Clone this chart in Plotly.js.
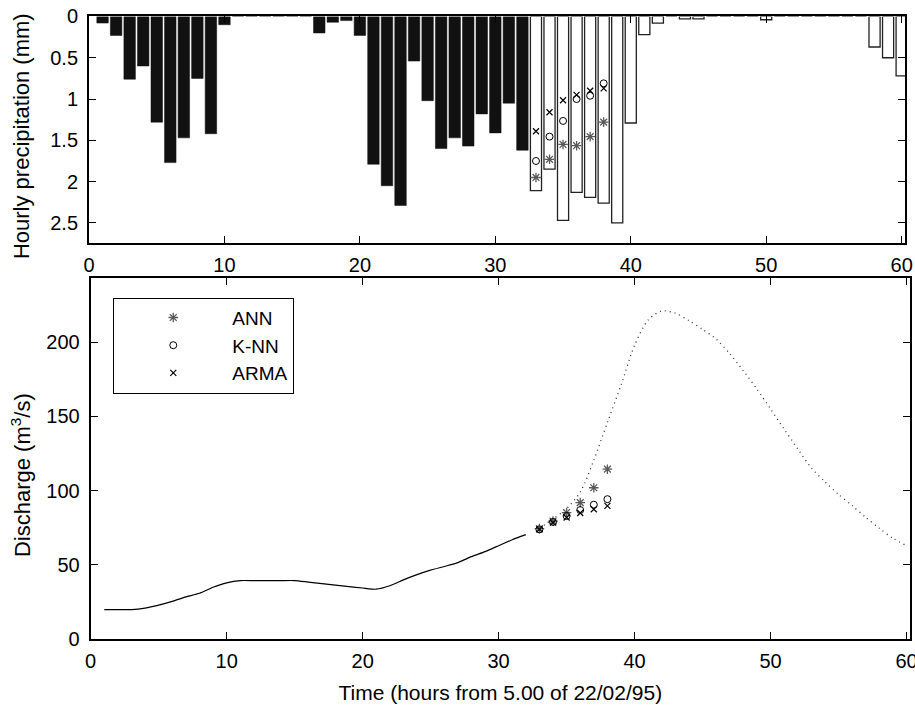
<!DOCTYPE html>
<html>
<head>
<meta charset="utf-8">
<script src="https://cdn.plot.ly/plotly-3.0.1.min.js"></script>
<style>html,body{margin:0;padding:0;background:#fff;}</style>
</head>
<body>
<div id="chart" style="width:915px;height:707px;"></div>
<script>
// ---- Data ----
const rainObsHours = [1,2,3,4,5,6,7,8,9,10,11,12,13,14,15,16,17,18,19,20,21,22,23,24,25,26,27,28,29,30,31,32];
const rainObs = [0.08,0.23,0.76,0.60,1.28,1.77,1.47,0.75,1.42,0.10,0,0,0,0,0,0,0.20,0.07,0.05,0.23,1.79,2.05,2.29,0.54,1.02,1.60,1.47,1.57,1.18,1.41,1.05,1.62];

const rainNextHours = [33,34,35,36,37,38,39,40,41,42,43,44,45,46,47,48,49,50,51,52,53,54,55,56,57,58,59,60];
const rainNext = [2.11,1.85,2.47,2.13,2.19,2.26,2.50,1.29,0.22,0.08,0,0.03,0.03,0,0,0,0,0.04,0,0,0,0,0,0,0,0.37,0.50,0.72];

const forecastHours = [33,34,35,36,37,38];
const annRain  = [1.95,1.73,1.55,1.565,1.455,1.28];
const knnRain  = [1.75,1.455,1.265,1.00,0.96,0.81];
const armaRain = [1.39,1.16,1.015,0.95,0.90,0.87];

const flowObsHours = [1,2,3,4,5,6,7,8,9,10,11,12,13,14,15,16,17,18,19,20,21,22,23,24,25,26,27,28,29,30,31,32];
const flowObs = [20,20,20,21,23,25.5,28.5,31,35,38,39.5,39.5,39.5,39.5,39.5,38.5,37.5,36.5,35.5,34.5,33.7,36,40,43.5,46.5,49,51.6,55.6,59,63,67,70.4];

const flowNextHours = [33,34,35,36,37,38,39,40,41,42,43,44,45,46,47,48,49,50,51,52,53,54,55,56,57,58,59,60];
const flowNext = [74.7,81,88,99,120.5,146,171,198,215,221,219.5,214.5,208.6,202,192.2,180.7,168.4,155,141.4,128.1,115.3,106,97.5,90,82,74.7,68,63];

const annFlow  = [74.5,79.5,85.3,92,102,114.5];
const knnFlow  = [74,79,83,87,90.6,94.3];
const armaFlow = [74,78.5,82,85,87.5,89.8];

const xTicks = [0,10,20,30,40,50,60];
const rainTicks = [0,0.5,1,1.5,2,2.5];
const rainTickText = ['0','0.5','1','1.5','2','2.5'];
const flowTicks = [0,50,100,150,200];

const rainTitle = 'Hourly precipitation (mm)';
const flowTitle = 'Discharge (m<sup>3</sup>/s)';
const timeTitle = 'Time (hours from 5.00 of 22/02/95)';

// ---- Styling ----
const FONT = 'Liberation Sans, Arial, Helvetica, sans-serif';
const annColor = '#5a5a5a';

const traces = [
  {type:'bar', x:rainObsHours, y:rainObs, width:0.85, xaxis:'x', yaxis:'y',
   marker:{color:'#111111', line:{color:'#111111', width:0.5}}, showlegend:false, hoverinfo:'x+y'},
  {type:'bar', x:rainNextHours, y:rainNext, width:0.82, xaxis:'x', yaxis:'y',
   marker:{color:'#ffffff', line:{color:'#222222', width:1.3}}, showlegend:false, hoverinfo:'x+y'},
  {type:'scatter', mode:'markers', x:forecastHours, y:annRain, xaxis:'x', yaxis:'y', showlegend:false,
   marker:{symbol:'asterisk-open', size:8, color:annColor, line:{color:annColor, width:1.3}}},
  {type:'scatter', mode:'markers', x:forecastHours, y:knnRain, xaxis:'x', yaxis:'y', showlegend:false,
   marker:{symbol:'circle-open', size:7, color:'#000', line:{color:'#000', width:1}}},
  {type:'scatter', mode:'markers', x:forecastHours, y:armaRain, xaxis:'x', yaxis:'y', showlegend:false,
   marker:{symbol:'x-thin-open', size:6, color:'#000', line:{color:'#000', width:1.2}}},

  {type:'scatter', mode:'lines', x:flowObsHours, y:flowObs, xaxis:'x2', yaxis:'y2', showlegend:false,
   line:{color:'#000', width:1.2, shape:'spline', smoothing:0.6}},
  {type:'scatter', mode:'lines', x:flowNextHours, y:flowNext, xaxis:'x2', yaxis:'y2', showlegend:false,
   line:{color:'#333', width:1.3, dash:'1px,4px', shape:'spline', smoothing:0.8}},
  {type:'scatter', mode:'markers', name:'ANN', x:forecastHours, y:annFlow, xaxis:'x2', yaxis:'y2',
   marker:{symbol:'asterisk-open', size:8, color:annColor, line:{color:annColor, width:1.3}}},
  {type:'scatter', mode:'markers', name:'K-NN', x:forecastHours, y:knnFlow, xaxis:'x2', yaxis:'y2',
   marker:{symbol:'circle-open', size:7, color:'#000', line:{color:'#000', width:1}}},
  {type:'scatter', mode:'markers', name:'ARMA', x:forecastHours, y:armaFlow, xaxis:'x2', yaxis:'y2',
   marker:{symbol:'x-thin-open', size:6, color:'#000', line:{color:'#000', width:1.2}}}
];

const axisBase = {
  showgrid:false, zeroline:false, showline:true, linecolor:'#000', linewidth:2,
  mirror:'ticks', ticks:'inside', ticklen:7, tickwidth:1, tickcolor:'#000',
  ticklabeloverflow:'allow',
  tickfont:{family:FONT, size:20, color:'#000'}
};

const layout = {
  width:915, height:707,
  margin:{l:0, r:0, t:0, b:0},
  paper_bgcolor:'#fff', plot_bgcolor:'#fff',
  font:{family:FONT, size:20, color:'#000'},
  barmode:'overlay',
  xaxis: Object.assign({}, axisBase, {
    domain:[0.0973, 0.9891], anchor:'y', range:[0, 60.25],
    tickmode:'array', tickvals:xTicks, ticklabelstandoff:3
  }),
  yaxis: Object.assign({}, axisBase, {
    domain:[0.6567, 0.9767], anchor:'x', range:[2.74, 0],
    tickmode:'array', tickvals:rainTicks, ticktext:rainTickText, ticklabelstandoff:5
  }),
  xaxis2: Object.assign({}, axisBase, {
    domain:[0.0991, 0.9945], anchor:'y2', range:[0, 60.25],
    tickmode:'array', tickvals:xTicks, ticklabelstandoff:3,
    title:{text:timeTitle, font:{family:FONT, size:21, color:'#000'}, standoff:14}
  }),
  yaxis2: Object.assign({}, axisBase, {
    domain:[0.0958, 0.6064], anchor:'x2', range:[0, 243],
    tickmode:'array', tickvals:flowTicks, ticklabelstandoff:5
  }),
  annotations:[
    {text:rainTitle, xref:'paper', yref:'paper', x:0.023, y:0.8076, xanchor:'center', yanchor:'middle',
     textangle:-90, showarrow:false, font:{family:FONT, size:22, color:'#000'}},
    {text:flowTitle, xref:'paper', yref:'paper', x:0.023, y:0.3281, xanchor:'center', yanchor:'middle',
     textangle:-90, showarrow:false, font:{family:FONT, size:22, color:'#000'}}
  ],
  showlegend:true,
  legend:{
    x:0.1238, y:0.579, xanchor:'left', yanchor:'top',
    bgcolor:'#fff', bordercolor:'#000', borderwidth:1,
    font:{family:FONT, size:19, color:'#000'},
    itemwidth:108, tracegroupgap:0
  }
};

Plotly.newPlot('chart', traces, layout, {staticPlot:true, displayModeBar:false});
</script>
</body>
</html>
